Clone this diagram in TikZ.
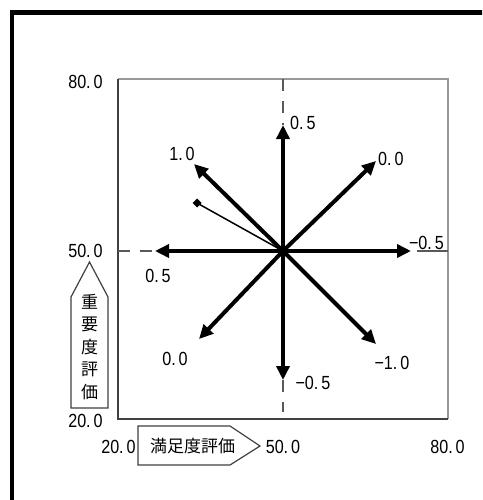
\documentclass[tikz,border=0pt]{standalone}
\usepackage{fontspec}
\setmainfont{Liberation Sans}
\newfontfamily\numfont[FakeStretch=0.85]{Liberation Sans}
\newfontfamily\jpfont{Noto Sans CJK JP}
\usetikzlibrary{arrows.meta}
\tikzset{
  vec/.style={line width=4pt,-{Triangle[length=14pt,width=13pt]}},
  axdash/.style={draw=black!65,line width=1.3pt,dash pattern=on 12pt off 10pt},
  num/.style={inner sep=0pt,font=\numfont\fontsize{19}{21}\selectfont},
  jp/.style={inner sep=0pt,font=\jpfont\fontsize{17}{22.5}\selectfont,align=center},
  tagbox/.style={draw=black!75,line width=1.2pt,fill=white},
}
\newcommand{\nm}[2]{#1.\kern3pt#2}
\begin{document}
\begin{tikzpicture}[x=1pt,y=-1pt]
\useasboundingbox (0,0) rectangle (482,500);
\clip (0,0) rectangle (482,500);
\fill[white] (0,0) rectangle (482,500);
% outer frame
\draw[line width=4.5pt] (12,520) -- (12,12.5) -- (500,12.5);
% plot box
\coordinate (bl) at (118,419);
\coordinate (tl) at (118,79);
\coordinate (tr) at (448,79);
\coordinate (br) at (448,419);
\draw[black!40,line width=1.5pt] (tl) -- (tr) -- (br);
\draw[black!75,line width=1.5pt] (tl) -- (bl) -- (br);
% centre and tips
\coordinate (c) at (283,251);
\coordinate (tU) at (283,125);
\coordinate (tUR) at (376,161);
\coordinate (tR) at (411,251);
\coordinate (tUL) at (194,164);
\coordinate (tL) at (155,251);
\coordinate (tLL) at (199,339);
\coordinate (tD) at (283,380);
\coordinate (tLR) at (376,344);
\coordinate (dm) at (197,203);
% dashed axis pieces
\draw[axdash] (283,79) -- (tU);
\draw[axdash] (tD) -- (283,412);
\draw[axdash] (118,251) -- (tL);
\draw[axdash,dash pattern=on 0pt off 6pt on 30pt] (tR) -- (448,251);
% vectors
\draw[vec] (c) -- (tU);
\draw[vec] (c) -- (tUR);
\draw[vec] (c) -- (tR);
\draw[vec] (c) -- (tUL);
\draw[vec] (c) -- (tL);
\draw[vec] (c) -- (tLL);
\draw[vec] (c) -- (tD);
\draw[vec] (c) -- (tLR);
\draw[line width=1.5pt] (c) -- (dm);
\fill (dm) ++(-4.5,0) -- ++(4.5,-4.5) -- ++(4.5,4.5) -- ++(-4.5,4.5) -- cycle;
% vector labels
\node[num,anchor=west] (lU) at (290,123) {\nm{0}{5}};
\node[num,anchor=west] (lUR) at (378,159) {\nm{0}{0}};
\node[num] (lR) at (426.5,243) {−\nm{0}{5}};
\node[num] (lUL) at (182,154) {\nm{1}{0}};
\node[num] (lL) at (158,276) {\nm{0}{5}};
\node[num] (lLL) at (175,359) {\nm{0}{0}};
\node[num] (lD) at (313,383) {−\nm{0}{5}};
\node[num] (lLR) at (392,363) {−\nm{1}{0}};
% axis values
\node[num] (y80) at (85.5,82) {\nm{80}{0}};
\node[num] (y50) at (85.5,251) {\nm{50}{0}};
\node[num] (y20) at (85.5,421) {\nm{20}{0}};
\node[num] (x20) at (118.5,447) {\nm{20}{0}};
\node[num] (x50) at (283,447) {\nm{50}{0}};
\node[num] (x80) at (447.5,447) {\nm{80}{0}};
% axis title tags
\draw[tagbox] (71,408) -- (71,297) -- (89.5,262) -- (108,297) -- (108,408) -- cycle;
\node[jp] (ytag) at (89.5,347) {重\\要\\度\\評\\価};
\draw[tagbox] (138,426) -- (230,426) -- (260,446) -- (230,465) -- (138,465) -- cycle;
\node[jp] (xtag) at (192.5,446) {満足度評価};
\end{tikzpicture}
\end{document}
